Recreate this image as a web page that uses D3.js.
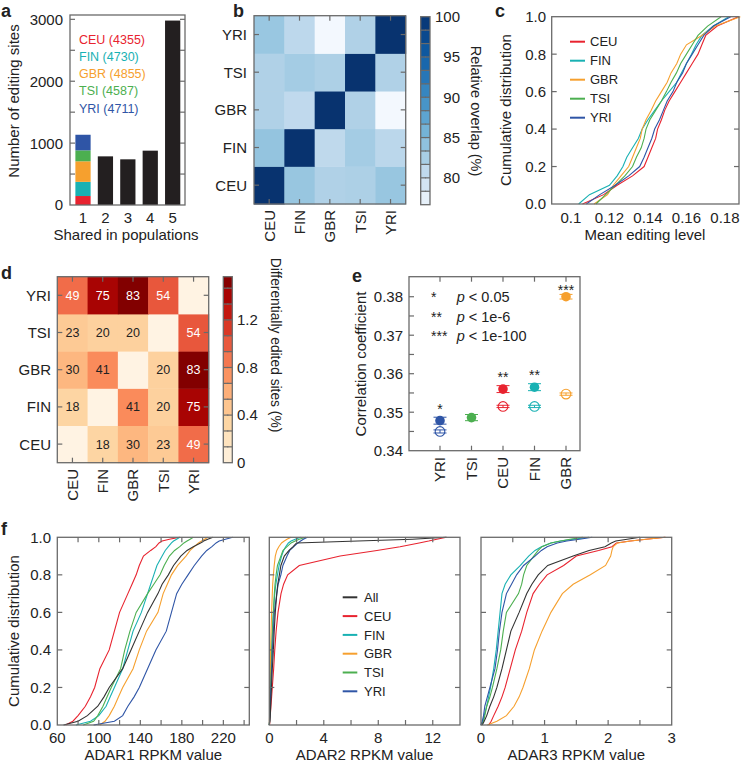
<!DOCTYPE html>
<meta charset="utf-8">
<title>RNA editing across populations</title>
<script src="https://cdn.jsdelivr.net/npm/d3@7"></script>
<style>
  body { margin: 0; background: #fff; }
  text { font-family: "Liberation Sans", Arial, sans-serif; fill: #222; }
</style>
<body>
<svg id="fig" width="744" height="763"></svg>
<script>
// ---- data ----
const pops = ["CEU", "FIN", "GBR", "TSI", "YRI"];
const popColors = ["#e8232f", "#19b1b3", "#f6a02e", "#4caf50", "#2f55a6"];
const allColor = "#333";

// a: sites shared in N populations
const sharedIn = [1, 2, 3, 4, 5];
const sharedCounts = [1135, 786, 738, 878, 2980];
const uniqueByPop = [145, 229, 332, 177, 252];   // stacked in bar 1
const totalSites = [4355, 4730, 4855, 4587, 4711];

// b: relative overlap (%), rows CEU..YRI, cols CEU..YRI
const overlap = [
  [100, 83.6, 82.0, 82.2, 83.6],
  [83.8, 100, 80.9, 82.8, 81.2],
  [82.0, 80.8, 100, 82.0, 76.6],
  [82.0, 82.8, 82.2, 100, 82.0],
  [83.5, 81.0, 76.6, 82.0, 100]
];

// c: cumulative distribution of mean editing level
const cLevels = [0, 0.05, 0.1, 0.15, 0.2, 0.25, 0.3, 0.35, 0.4, 0.45, 0.5, 0.55, 0.6, 0.65, 0.7, 0.75, 0.8, 0.85, 0.9, 0.95, 1];
const editCEU = [0.106, 0.117, 0.124, 0.132, 0.138, 0.140, 0.142, 0.144, 0.145, 0.147, 0.1487, 0.151, 0.154, 0.157, 0.160, 0.163, 0.166, 0.168, 0.170, 0.176, 0.187];
const editFIN = [0.104, 0.1096, 0.120, 0.124, 0.127, 0.129, 0.132, 0.135, 0.137, 0.140, 0.1435, 0.147, 0.151, 0.155, 0.1574, 0.160, 0.1626, 0.165, 0.168, 0.174, 0.182];
const editGBR = [0.112, 0.119, 0.122, 0.126, 0.130, 0.132, 0.134, 0.136, 0.137, 0.139, 0.1417, 0.144, 0.147, 0.150, 0.152, 0.155, 0.157, 0.160, 0.168, 0.175, 0.188];
const editTSI = [0.113, 0.118, 0.123, 0.128, 0.132, 0.134, 0.1365, 0.138, 0.139, 0.141, 0.144, 0.147, 0.1496, 0.152, 0.1548, 0.157, 0.160, 0.163, 0.166, 0.171, 0.178];
const editYRI = [0.108, 0.115, 0.123, 0.130, 0.1357, 0.138, 0.140, 0.142, 0.1435, 0.146, 0.148, 0.150, 0.153, 0.155, 0.158, 0.160, 0.163, 0.166, 0.169, 0.174, 0.183];

// d: differentially edited sites, % and counts
const diffPct = [
  [0, 0.34, 0.56, 0.43, 0.92],
  [0.34, 0, 0.77, 0.37, 1.40],
  [0.56, 0.77, 0, 0.37, 1.55],
  [0.43, 0.37, 0.37, 0, 1.01],
  [0.92, 1.40, 1.55, 1.01, 0]
];
const diffCount = [
  [null, 18, 30, 23, 49],
  [18, null, 41, 20, 75],
  [30, 41, null, 20, 83],
  [23, 20, 20, null, 54],
  [49, 75, 83, 54, null]
];

// e: correlation coefficients
const corrPops = ["YRI", "TSI", "CEU", "FIN", "GBR"];
const corrFilled = [0.3478, 0.3486, 0.3560, 0.3565, 0.3800];
const corrFilledErr = [0.0009, 0.0008, 0.0009, 0.0009, 0.0006];
const corrOpen = [0.3450, null, 0.3515, 0.3515, 0.3547];
const corrOpenErr = [0.0004, null, 0.0003, 0.0003, 0.0003];
const corrStars = ["*", "", "**", "**", "***"];
const pLegend = [["*", "< 0.05"], ["**", "< 1e-6"], ["***", "< 1e-100"]];

// f: cumulative distribution of ADAR RPKM
const fLevels = [0, 0.02, 0.05, 0.1, 0.15, 0.2, 0.3, 0.4, 0.5, 0.6, 0.7, 0.75, 0.8, 0.85, 0.9, 0.93, 0.95, 0.97, 0.98, 0.99, 1];
const adar1 = {
  All: [66, 80, 89, 99, 105, 110, 123, 131, 139, 147, 157, 161, 167, 172, 179, 185, 191, 198, 201, 205, 210],
  CEU: [68, 75, 80, 87, 92, 96, 101, 110, 115, 120, 128, 132, 136, 139, 143, 150, 155, 158, 161, 168, 178],
  FIN: [78, 92, 100, 107, 111, 115, 123, 128, 133, 141, 147, 150, 153, 156, 161, 164, 167, 170, 172, 175, 178],
  GBR: [101, 106, 110, 115, 119, 123, 133, 139, 146, 157, 162, 166, 170, 176, 184, 188, 192, 196, 199, 202, 205],
  TSI: [85, 95, 99, 104, 108, 112, 121, 125, 130, 136, 147, 153, 159, 163, 168, 173, 178, 182, 185, 188, 191],
  YRI: [95, 115, 123, 128, 134, 139, 147, 155, 165, 170, 175, 180, 186, 192, 199, 204, 209, 213, 216, 222, 229]
};
const adar2 = {
  All: [0, 0.04, 0.07, 0.1, 0.13, 0.16, 0.22, 0.3, 0.36, 0.44, 0.55, 0.62, 0.74, 0.85, 1.1, 1.45, 1.75, 2.0, 6.5, 10.5, 13.0],
  CEU: [0.02, 0.04, 0.07, 0.12, 0.17, 0.22, 0.32, 0.4, 0.5, 0.64, 0.86, 1.05, 1.35, 2.2, 5.2, 7.9, 9.6, 11.0, 11.7, 12.3, 13.0],
  FIN: [0, 0.02, 0.03, 0.05, 0.07, 0.09, 0.13, 0.17, 0.22, 0.3, 0.4, 0.48, 0.6, 0.72, 0.9, 1.05, 1.2, 1.4, 1.6, 1.9, 2.3],
  GBR: [0, 0.01, 0.02, 0.04, 0.05, 0.06, 0.08, 0.1, 0.13, 0.17, 0.22, 0.25, 0.3, 0.36, 0.44, 0.55, 0.7, 0.9, 1.1, 1.3, 1.6],
  TSI: [0, 0.02, 0.03, 0.05, 0.07, 0.1, 0.14, 0.19, 0.24, 0.3, 0.37, 0.42, 0.5, 0.6, 0.85, 1.0, 1.3, 1.6, 1.9, 2.2, 2.7],
  YRI: [0, 0.02, 0.04, 0.06, 0.09, 0.12, 0.17, 0.23, 0.3, 0.37, 0.55, 0.65, 0.85, 1.0, 1.3, 1.5, 1.8, 2.1, 2.3, 2.5, 2.8]
};
const adar3 = {
  All: [0.02, 0.05, 0.09, 0.14, 0.2, 0.25, 0.33, 0.4, 0.47, 0.6, 0.72, 0.8, 0.9, 1.05, 1.45, 1.7, 1.95, 2.05, 2.12, 2.3, 2.5],
  CEU: [0.12, 0.16, 0.2, 0.27, 0.33, 0.38, 0.46, 0.54, 0.64, 0.72, 0.82, 0.92, 1.04, 1.3, 1.5, 1.85, 2.06, 2.13, 2.35, 2.6, 2.9],
  FIN: [0, 0.03, 0.05, 0.09, 0.12, 0.15, 0.2, 0.24, 0.27, 0.3, 0.33, 0.38, 0.47, 0.62, 0.75, 0.85, 0.95, 1.1, 1.25, 1.45, 1.7],
  GBR: [0.1, 0.25, 0.4, 0.52, 0.6, 0.66, 0.76, 0.84, 0.96, 1.1, 1.28, 1.45, 1.72, 1.96, 2.04, 2.06, 2.08, 2.15, 2.35, 2.6, 2.9],
  TSI: [0, 0.04, 0.06, 0.09, 0.14, 0.18, 0.25, 0.31, 0.35, 0.4, 0.59, 0.64, 0.67, 0.72, 0.83, 0.9, 0.96, 1.1, 1.25, 1.4, 1.6],
  YRI: [0, 0.02, 0.04, 0.06, 0.1, 0.14, 0.22, 0.26, 0.29, 0.33, 0.4, 0.48, 0.56, 0.67, 0.85, 0.95, 1.04, 1.2, 1.35, 1.55, 1.75]
};

// ---- helpers ----
const svg = d3.select("#fig");
const frameColor = "#6a6a6a";
const tl = 5;  // inward tick length
const fs = 15;

function frame(g, x0, x1, y0, y1) {
  g.append("rect").attr("x", x0).attr("y", y0).attr("width", x1 - x0).attr("height", y1 - y0)
    .attr("fill", "none").attr("stroke", frameColor).attr("stroke-width", 1.3);
}
function yTicks(g, y, vals, x0, x1) {
  for (const v of vals) {
    g.append("line").attr("x1", x0).attr("x2", x0 + tl).attr("y1", y(v)).attr("y2", y(v)).attr("stroke", frameColor).attr("stroke-width", 1.2);
    if (x1 != null) g.append("line").attr("x1", x1).attr("x2", x1 - tl).attr("y1", y(v)).attr("y2", y(v)).attr("stroke", frameColor).attr("stroke-width", 1.2);
  }
}
function xTicks(g, x, vals, y0, y1) {
  for (const v of vals) {
    if (y0 != null) g.append("line").attr("x1", x(v)).attr("x2", x(v)).attr("y1", y0).attr("y2", y0 + tl).attr("stroke", frameColor).attr("stroke-width", 1.2);
    if (y1 != null) g.append("line").attr("x1", x(v)).attr("x2", x(v)).attr("y1", y1).attr("y2", y1 - tl).attr("stroke", frameColor).attr("stroke-width", 1.2);
  }
}
function yLabels(g, y, vals, fmt, xr, size = fs) {
  g.selectAll(null).data(vals).join("text")
    .attr("x", xr).attr("y", d => y(d)).attr("dy", "0.36em")
    .attr("text-anchor", "end").attr("font-size", size).text(fmt);
}
function xLabels(g, x, vals, fmt, yb, size = fs) {
  g.selectAll(null).data(vals).join("text")
    .attr("x", d => x(d)).attr("y", yb)
    .attr("text-anchor", "middle").attr("font-size", size).text(fmt);
}
function vTitle(g, text, x, y, rot = -90, size = fs) {
  g.append("text").attr("transform", `translate(${x},${y}) rotate(${rot})`)
    .attr("text-anchor", "middle").attr("dy", "0.35em").attr("font-size", size).text(text);
}
function hTitle(g, text, x, y, size = fs) {
  g.append("text").attr("x", x).attr("y", y).attr("text-anchor", "middle").attr("font-size", size).text(text);
}
function panelLabel(text, x, y) {
  svg.append("text").attr("x", x).attr("y", y).attr("font-size", 18).attr("font-weight", "bold").attr("fill", "#111").text(text);
}
const cdfLine = (x, y) => d3.line().x(d => x(d[0])).y(d => y(d[1]));

// ---- panel a ----
{
  const g = svg.append("g");
  const x = d3.scaleLinear().domain([0.42, 5.55]).range([70, 185]);
  const y = d3.scaleLinear().domain([0, 3070]).range([205, 15]);
  const bw = x(0.68) - x(0);
  // stacked first bar
  const stack = d3.cumsum(uniqueByPop);
  g.selectAll(null).data(uniqueByPop).join("rect")
    .attr("x", x(1) - bw / 2).attr("width", bw)
    .attr("y", (d, i) => y(stack[i])).attr("height", d => y(0) - y(d))
    .attr("fill", (d, i) => popColors[i]);
  g.selectAll(null).data(sharedIn.slice(1)).join("rect")
    .attr("x", d => x(d) - bw / 2).attr("width", bw)
    .attr("y", (d, i) => y(sharedCounts[i + 1])).attr("height", (d, i) => y(0) - y(sharedCounts[i + 1]))
    .attr("fill", "#231f20");
  frame(g, 70, 185, 15, 205);
  yTicks(g, y, [500, 1000, 1500, 2000, 2500, 3000], 70, 185);
  yLabels(g, y, [0, 1000, 2000, 3000], d => d, 63);
  xLabels(g, x, sharedIn, d => d, 223);
  vTitle(g, "Number of editing sites", 14, 101);
  hTitle(g, "Shared in populations", 126, 240);
  g.selectAll(null).data(pops).join("text")
    .attr("x", 79).attr("y", (d, i) => 43.5 + i * 17.3)
    .attr("font-size", 12.5).style("fill", (d, i) => popColors[i])
    .text((d, i) => `${d} (${totalSites[i]})`);
  panelLabel("a", 1, 17);
}

// ---- panel b ----
{
  const g = svg.append("g");
  const rows = pops.slice().reverse();
  const x = d3.scaleBand().domain(pops).range([254, 405.7]);
  const y = d3.scaleBand().domain(rows).range([15.7, 204]);
  const lo = 76.67, hi = 100;
  const color = v => d3.interpolateBlues(Math.pow(Math.max(0, (v - lo) / (hi - lo)), 0.8) * 0.97 + 0.02);
  pops.forEach((r, i) => pops.forEach((c, j) => {
    g.append("rect").attr("x", x(c)).attr("y", y(r)).attr("width", x.bandwidth() + 0.5).attr("height", y.bandwidth() + 0.5)
      .attr("fill", color(overlap[i][j]));
  }));
  frame(g, 254, 405.7, 15.7, 204);
  const xc = d => x(d) + x.bandwidth() / 2, yc = d => y(d) + y.bandwidth() / 2;
  xTicks(g, xc, pops, 15.7, 204);
  yTicks(g, yc, rows, 254, 405.7);
  yLabels(g, yc, rows, d => d, 247);
  g.selectAll(null).data(pops).join("text")
    .attr("transform", d => `translate(${xc(d)},${210}) rotate(-90)`)
    .attr("text-anchor", "end").attr("dy", "0.36em").attr("font-size", fs).text(d => d);
  // colour bar
  const cy = d3.scaleLinear().domain([lo, hi]).range([204.7, 16.7]);
  const bands = d3.range(14).map(k => lo + k * (hi - lo) / 14);
  g.selectAll(null).data(bands).join("rect")
    .attr("x", 420.7).attr("width", 9.3)
    .attr("y", d => cy(d + (hi - lo) / 14)).attr("height", d => cy(d) - cy(d + (hi - lo) / 14) + 0.3)
    .attr("fill", d => color(d + (hi - lo) / 28));
  frame(g, 420.7, 430, 16.7, 204.7);
  yTicks(g, cy, bands.slice(1), 420.7, 430);
  yLabels(g, cy, [80, 85, 90, 95, 100], d => d, 460);
  vTitle(g, "Relative overlap (%)", 476, 111, 90, 14.5);
  panelLabel("b", 233, 17);
}

// ---- panel c ----
{
  const g = svg.append("g");
  const x = d3.scaleLinear().domain([0.09, 0.1873]).range([551.7, 739]);
  const y = d3.scaleLinear().domain([0, 1]).range([204, 16.7]);
  const series = [editCEU, editFIN, editGBR, editTSI, editYRI];
  const line = cdfLine(x, y);
  series.forEach((s, i) => {
    g.append("path").datum(d3.zip(s, cLevels)).attr("d", line)
      .attr("fill", "none").attr("stroke", popColors[i]).attr("stroke-width", 1.1);
  });
  frame(g, 551.7, 739, 16.7, 204);
  yTicks(g, y, [0.2, 0.4, 0.6, 0.8], 551.7, 739);
  yLabels(g, y, [0, 0.2, 0.4, 0.6, 0.8, 1.0], d => d.toFixed(1), 546);
  xLabels(g, x, [0.1, 0.12, 0.14, 0.16, 0.18], d => d3.format("")(d), 223);
  vTitle(g, "Cumulative distribution", 506, 110);
  hTitle(g, "Mean editing level", 645, 240);
  pops.forEach((p, i) => {
    const yy = 41.7 + i * 19;
    g.append("line").attr("x1", 570).attr("x2", 585).attr("y1", yy).attr("y2", yy).attr("stroke", popColors[i]).attr("stroke-width", 2);
    g.append("text").attr("x", 590).attr("y", yy).attr("dy", "0.36em").attr("font-size", 13).text(p);
  });
  panelLabel("c", 495, 17);
}

// ---- panel d ----
{
  const g = svg.append("g");
  const rows = pops.slice().reverse();
  const x = d3.scaleBand().domain(pops).range([57.3, 208.7]);
  const y = d3.scaleBand().domain(rows).range([276.7, 462.7]);
  const top = 1.563;
  const color = v => d3.interpolateOrRd(0.03 + 0.97 * v / top);
  pops.forEach((r, i) => pops.forEach((c, j) => {
    g.append("rect").attr("x", x(c)).attr("y", y(r)).attr("width", x.bandwidth() + 0.5).attr("height", y.bandwidth() + 0.5)
      .attr("fill", color(diffPct[i][j]));
    if (diffCount[i][j] != null)
      g.append("text").attr("x", x(c) + x.bandwidth() / 2).attr("y", y(r) + y.bandwidth() / 2).attr("dy", "0.36em")
        .attr("text-anchor", "middle").attr("font-size", 12.5)
        .style("fill", diffPct[i][j] > 0.85 ? "#fff" : "#222").text(diffCount[i][j]);
  }));
  frame(g, 57.3, 208.7, 276.7, 462.7);
  const xc = d => x(d) + x.bandwidth() / 2, yc = d => y(d) + y.bandwidth() / 2;
  xTicks(g, xc, pops, 276.7, 462.7);
  yTicks(g, yc, rows, 57.3, 208.7);
  yLabels(g, yc, rows, d => d, 51);
  g.selectAll(null).data(pops).join("text")
    .attr("transform", d => `translate(${xc(d)},${469}) rotate(-90)`)
    .attr("text-anchor", "end").attr("dy", "0.36em").attr("font-size", fs).text(d => d);
  // colour bar
  const cy = d3.scaleLinear().domain([0, top]).range([462.7, 276.7]);
  const step = 0.4 / 3;
  const bands = d3.range(0, top, step);
  g.selectAll(null).data(bands).join("rect")
    .attr("x", 223.3).attr("width", 9)
    .attr("y", d => cy(Math.min(top, d + step))).attr("height", d => cy(d) - cy(Math.min(top, d + step)) + 0.3)
    .attr("fill", d => color(Math.min(top, d + step / 2)));
  frame(g, 223.3, 232.3, 276.7, 462.7);
  yTicks(g, cy, bands.slice(1), 223.3, 232.3);
  g.selectAll(null).data([0, 0.4, 0.8, 1.2]).join("text")
    .attr("x", 237).attr("y", d => cy(d)).attr("dy", "0.36em").attr("font-size", fs).text(d => d);
  vTitle(g, "Differentially edited sites (%)", 276, 345, 90, 13.8);
  panelLabel("d", 1, 279);
}

// ---- panel e ----
{
  const g = svg.append("g");
  const x0 = 409, x1 = 580;
  const x = d3.scalePoint().domain(corrPops).range([440, 566]);
  const y = d3.scaleLinear().domain([0.34, 0.3852]).range([450.7, 276.7]);
  frame(g, x0, x1, 276.7, 450.7);
  yTicks(g, y, [0.345, 0.35, 0.355, 0.36, 0.365, 0.37, 0.375, 0.38], x0, null);
  xTicks(g, x, corrPops, 276.7, 450.7);
  yLabels(g, y, [0.34, 0.35, 0.36, 0.37, 0.38], d => d.toFixed(2), 403);
  g.selectAll(null).data(corrPops).join("text")
    .attr("transform", d => `translate(${x(d)},${457}) rotate(-90)`)
    .attr("text-anchor", "end").attr("dy", "0.36em").attr("font-size", fs).text(d => d);
  vTitle(g, "Correlation coefficient", 361, 364);
  const r = 4.8, cap = 6.5;
  corrPops.forEach((p, i) => {
    const col = popColors[pops.indexOf(p)];
    const cx = x(p);
    const bars = (v, e) => {
      g.append("line").attr("x1", cx).attr("x2", cx).attr("y1", y(v - e)).attr("y2", y(v + e)).attr("stroke", col).attr("stroke-width", 1);
      [v - e, v + e].forEach(w => g.append("line").attr("x1", cx - cap).attr("x2", cx + cap).attr("y1", y(w)).attr("y2", y(w)).attr("stroke", col).attr("stroke-width", 1));
    };
    if (corrOpen[i] != null) {
      g.append("circle").attr("cx", cx).attr("cy", y(corrOpen[i])).attr("r", r).attr("fill", "#fff").attr("stroke", col).attr("stroke-width", 1.1);
      bars(corrOpen[i], corrOpenErr[i]);
    }
    bars(corrFilled[i], corrFilledErr[i]);
    g.append("circle").attr("cx", cx).attr("cy", y(corrFilled[i])).attr("r", r).attr("fill", col);
    if (corrStars[i])
      g.append("text").attr("x", cx).attr("y", Math.max(y(corrFilled[i]) - 7, 295)).attr("text-anchor", "middle")
        .attr("font-size", 14).text(corrStars[i]);
  });
  pLegend.forEach(([s, t], i) => {
    const yy = 302 + i * 19.7;
    g.append("text").attr("x", 431).attr("y", yy).attr("font-size", 14).text(s);
    const tx = g.append("text").attr("x", 456.7).attr("y", yy).attr("font-size", 14.5);
    tx.append("tspan").attr("font-style", "italic").text("p");
    tx.append("tspan").text(" " + t);
  });
  panelLabel("e", 352, 282);
}

// ---- panel f ----
{
  const g = svg.append("g");
  const y = d3.scaleLinear().domain([0, 1]).range([725, 537.3]);
  const keys = ["All", ...pops];
  const colors = [allColor, ...popColors];
  const panels = [
    { data: adar1, dom: [60, 245], rng: [57.3, 249.3], ticks: d3.range(80, 245, 20), labels: [60, 100, 140, 180, 220], title: "ADAR1 RPKM value" },
    { data: adar2, dom: [0, 14], rng: [269.3, 460], ticks: [2, 4, 6, 8, 10, 12], labels: [0, 4, 8, 12], title: "ADAR2 RPKM value" },
    { data: adar3, dom: [0, 3], rng: [481, 671.7], ticks: [0.5, 1, 1.5, 2, 2.5], labels: [0, 1, 2, 3], title: "ADAR3 RPKM value" }
  ];
  panels.forEach((pn, k) => {
    const x = d3.scaleLinear().domain(pn.dom).range(pn.rng);
    const line = cdfLine(x, y);
    const order = [1, 2, 3, 4, 5, 0];
    order.forEach(i => {
      g.append("path").datum(d3.zip(pn.data[keys[i]], fLevels)).attr("d", line)
        .attr("fill", "none").attr("stroke", colors[i]).attr("stroke-width", 1.1);
    });
    frame(g, pn.rng[0], pn.rng[1], 537.3, 725);
    yTicks(g, y, [0.2, 0.4, 0.6, 0.8], pn.rng[0], pn.rng[1]);
    xTicks(g, x, pn.ticks, 537.3, 725);
    xLabels(g, x, pn.labels, d => d, 743);
    hTitle(g, pn.title, (pn.rng[0] + pn.rng[1]) / 2, 760);
    if (k === 0) {
      yLabels(g, y, [0, 0.2, 0.4, 0.6, 0.8, 1.0], d => d.toFixed(1), 51);
      vTitle(g, "Cumulative distribution", 14, 631);
    }
  });
  keys.forEach((kname, i) => {
    const yy = 597.3 + i * 18.8;
    g.append("line").attr("x1", 342.7).attr("x2", 357.3).attr("y1", yy).attr("y2", yy).attr("stroke", colors[i]).attr("stroke-width", 2);
    g.append("text").attr("x", 364).attr("y", yy).attr("dy", "0.36em").attr("font-size", 13).text(kname);
  });
  panelLabel("f", 1, 535);
}
</script>
</body>
